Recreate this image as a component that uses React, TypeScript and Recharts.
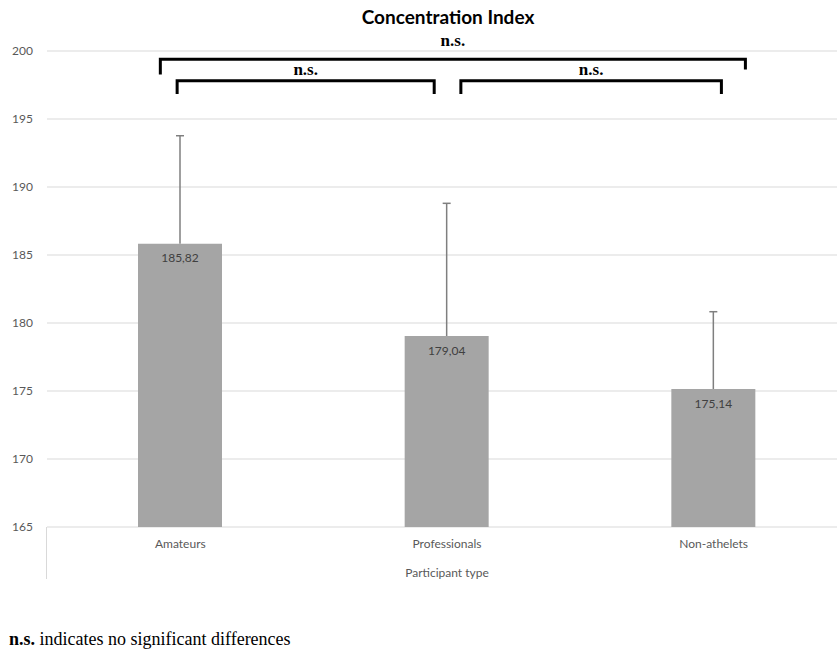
import { BarChart, Bar, XAxis, YAxis, CartesianGrid, LabelList } from "recharts";

const CATEGORIES = ["Amateurs", "Professionals", "Non-athelets"];
const MEANS = [185.82, 179.04, 175.14];
// upper error only, as in the original figure
const UPPER_ERRORS = [7.95, 9.76, 5.69];
const Y_TICKS = [165, 170, 175, 180, 185, 190, 195, 200];
const Y_DOMAIN: [number, number] = [165, 200];

// significance brackets: category index (fractional) and value on the y scale
const BRACKETS = [
  { from: -0.075, to: 2.119, top: 199.39, leftFoot: 198.38, rightFoot: 198.75, text: "n.s.", gap: 13 },
  { from: -0.012, to: 0.952, top: 197.82, leftFoot: 196.95, rightFoot: 196.95, text: "n.s.", gap: 6 },
  { from: 1.052, to: 2.029, top: 197.82, leftFoot: 196.95, rightFoot: 196.95, text: "n.s.", gap: 6 },
];

const data = CATEGORIES.map((name, i) => ({
  name,
  value: MEANS[i],
  whisker: [MEANS[i], MEANS[i] + UPPER_ERRORS[i]],
}));

// chart geometry, shared with the bracket overlay
const CHART_W = 860;
const CHART_H = 650;
const MARGIN = { top: 51, right: 13, bottom: 63, left: 7 };
const Y_AXIS_W = 40;
const X_AXIS_H = 60;
const PLOT_L = MARGIN.left + Y_AXIS_W;
const PLOT_R = CHART_W - MARGIN.right;
const PLOT_T = MARGIN.top;
const PLOT_B = CHART_H - MARGIN.bottom - X_AXIS_H;
const band = (PLOT_R - PLOT_L) / CATEGORIES.length;
const xAt = (i: number) => PLOT_L + (i + 0.5) * band;
const yAt = (v: number) => PLOT_B - ((v - Y_DOMAIN[0]) / (Y_DOMAIN[1] - Y_DOMAIN[0])) * (PLOT_B - PLOT_T);

const SANS = "Lato, 'Noto Sans', sans-serif";
const SERIF = "'Liberation Serif', 'Times New Roman', serif";
const AXIS_TEXT = { fontSize: 12, fill: "#595959", fontFamily: SANS };

// plus-only error bar: stem from the mean up to mean + error, capped at the top
function Whisker(props: any) {
  const { x, y, width, height } = props;
  if (x == null || y == null) return null;
  const cx = x + width / 2;
  const top = Math.min(y, y + height);
  const bottom = Math.max(y, y + height);
  return (
    <g stroke="#7f7f7f" strokeWidth={1.5}>
      <line x1={cx} x2={cx} y1={top} y2={bottom} />
      <line x1={cx - 4} x2={cx + 4} y1={top} y2={top} />
    </g>
  );
}

function Brackets() {
  return (
    <svg
      width={837}
      height={650}
      style={{ position: "absolute", left: 0, top: 0, pointerEvents: "none" }}
    >
      {BRACKETS.map((b, i) => {
        const x1 = xAt(b.from);
        const x2 = xAt(b.to);
        const yt = yAt(b.top);
        return (
          <g key={i}>
            <polyline
              points={`${x1},${yAt(b.leftFoot)} ${x1},${yt} ${x2},${yt} ${x2},${yAt(b.rightFoot)}`}
              fill="none"
              stroke="#000"
              strokeWidth={3}
              strokeLinecap="square"
              strokeLinejoin="miter"
            />
            <text
              x={(x1 + x2) / 2}
              y={yt - b.gap}
              textAnchor="middle"
              fontFamily={SERIF}
              fontWeight={700}
              fontSize={17}
              fill="#000"
            >
              {b.text}
            </text>
          </g>
        );
      })}
    </svg>
  );
}

export default function App() {
  return (
    <div style={{ position: "absolute", left: 0, top: 0, width: 837, height: 650, overflow: "hidden", background: "#fff" }}>
      <div
        style={{
          position: "absolute",
          left: 248,
          width: 400,
          top: 5,
          textAlign: "center",
          fontFamily: SANS,
          fontWeight: 700,
          fontSize: 19,
          lineHeight: "24px",
          color: "#000",
        }}
      >
        Concentration Index
      </div>

      <BarChart width={CHART_W} height={CHART_H} data={data} margin={MARGIN}>
        <CartesianGrid vertical={false} stroke="#d9d9d9" />
        <XAxis
          dataKey="name"
          tickLine={false}
          axisLine={false}
          tickMargin={6}
          height={X_AXIS_H}
          tick={AXIS_TEXT}
          label={{ value: "Participant type", position: "insideBottom", offset: 10, ...AXIS_TEXT }}
        />
        {/* second category axis so the whiskers line up with the bars instead of sitting beside them */}
        <XAxis xAxisId="err" dataKey="name" hide />
        <YAxis
          domain={Y_DOMAIN}
          ticks={Y_TICKS}
          width={Y_AXIS_W}
          tickLine={false}
          axisLine={false}
          tickMargin={8}
          tick={AXIS_TEXT}
        />

        <Bar xAxisId="err" dataKey="whisker" barSize={84} shape={<Whisker />} isAnimationActive={false} />
        <Bar dataKey="value" barSize={84} fill="#a5a5a5" isAnimationActive={false}>
          <LabelList
            dataKey="value"
            position="insideTop"
            offset={10}
            fill="#404040"
            fontSize={12}
            fontFamily={SANS}
            formatter={(v: number) => v.toFixed(2).replace(".", ",")}
          />
        </Bar>
      </BarChart>

      <Brackets />

      {/* left edge of the category axis, running down past the tick labels */}
      <div style={{ position: "absolute", left: 46, top: 527, width: 1, height: 52, background: "#d9d9d9" }} />

      <div
        style={{
          position: "absolute",
          left: 9,
          top: 629,
          fontFamily: SERIF,
          fontSize: 18,
          lineHeight: "20px",
          color: "#000",
          whiteSpace: "nowrap",
        }}
      >
        <b>n.s.</b> indicates no significant differences
      </div>
    </div>
  );
}
